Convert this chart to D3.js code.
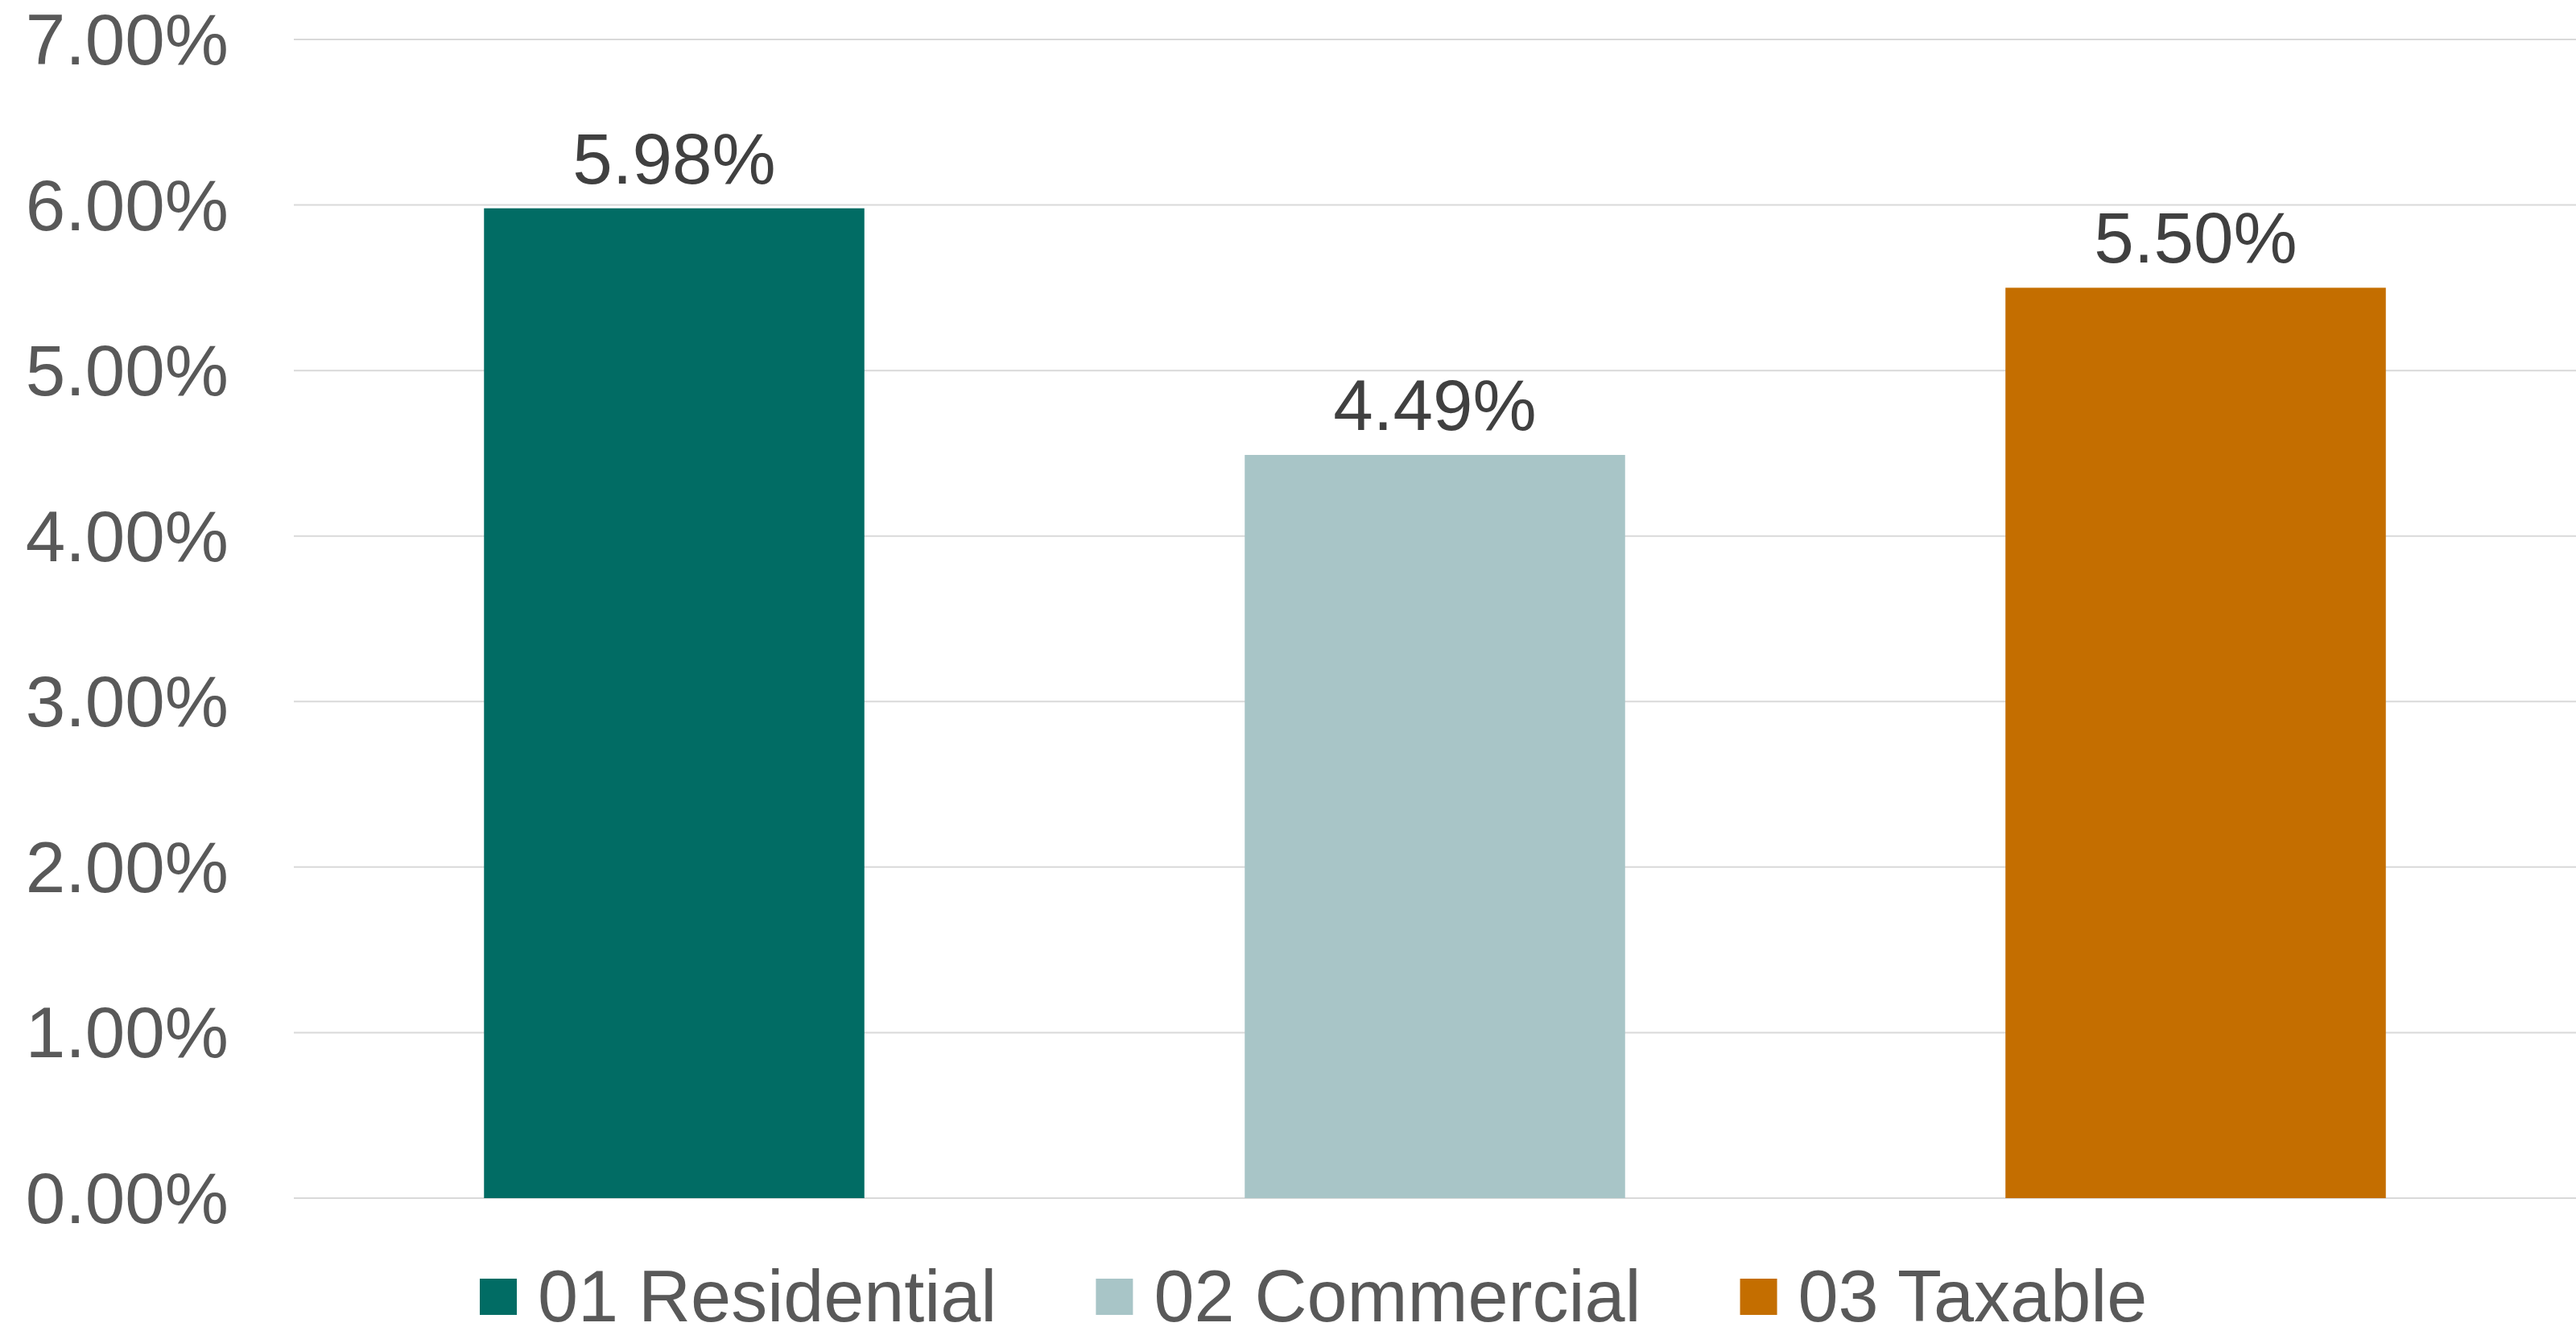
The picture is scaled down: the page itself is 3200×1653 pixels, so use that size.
<!DOCTYPE html>
<html>
 <head>
  <meta charset="utf-8">
  <script src="https://d3js.org/d3.v7.min.js"></script>
  <style>
   body { margin: 0; background: #fff; }
   text { font-family: "Liberation Sans", Arial, sans-serif; }
  </style>
 </head>
 <body>
  <div id="chart"></div>
  <script type="text/javascript">
   // data
   var categories = ["01 Residential", "02 Commercial", "03 Taxable"];
   var values = [0.0598, 0.0449, 0.0550];
   var colors = ["#016c64", "#a8c5c7", "#c46e00"];
   var yTicks = [0, 0.01, 0.02, 0.03, 0.04, 0.05, 0.06, 0.07];

   var W = 3200, H = 1653;
   var plotLeft = 365, plotRight = 3200, plotTop = 49, plotBottom = 1488;

   var svg = d3.select("#chart").append("svg")
     .attr("width", W)
     .attr("height", H);

   var x = d3.scaleBand()
     .domain(categories)
     .range([plotLeft, plotRight])
     .paddingInner(0.5)
     .paddingOuter(0.25);

   var y = d3.scaleLinear()
     .domain([0, 0.07])
     .range([plotBottom, plotTop]);

   var fmt = d3.format(".2%");

   // gridlines
   svg.selectAll("line.grid")
     .data(yTicks)
     .enter()
     .append("line")
       .attr("class", "grid")
       .attr("x1", plotLeft)
       .attr("x2", plotRight)
       .attr("y1", function (d) { return y(d); })
       .attr("y2", function (d) { return y(d); })
       .style("stroke", "#d9d9d9")
       .style("stroke-width", 2);

   // y axis labels
   svg.selectAll("text.ylab")
     .data(yTicks)
     .enter()
     .append("text")
       .attr("class", "ylab")
       .attr("x", 284)
       .attr("y", function (d) { return y(d) + 31; })
       .attr("text-anchor", "end")
       .style("font-size", "89px")
       .style("fill", "#595959")
       .text(function (d) { return fmt(d); });

   // bars
   svg.selectAll("rect.bar")
     .data(values)
     .enter()
     .append("rect")
       .attr("class", "bar")
       .attr("x", function (d, i) { return x(categories[i]); })
       .attr("width", x.bandwidth())
       .attr("y", function (d) { return y(d); })
       .attr("height", function (d) { return y(0) - y(d); })
       .style("fill", function (d, i) { return colors[i]; });

   // value labels
   svg.selectAll("text.val")
     .data(values)
     .enter()
     .append("text")
       .attr("class", "val")
       .attr("x", function (d, i) { return x(categories[i]) + x.bandwidth() / 2; })
       .attr("y", function (d) { return y(d) - 31; })
       .attr("text-anchor", "middle")
       .style("font-size", "89px")
       .style("fill", "#404040")
       .text(function (d) { return fmt(d); });

   // legend
   var legend = svg.append("g").attr("class", "legend");
   var lx = 596;
   categories.forEach(function (c, i) {
     legend.append("rect")
       .attr("x", lx)
       .attr("y", 1588)
       .attr("width", 46)
       .attr("height", 45)
       .style("fill", colors[i]);
     var t = legend.append("text")
       .attr("x", lx + 72)
       .attr("y", 1641)
       .style("font-size", "90px")
       .style("fill", "#595959")
       .text(c);
     lx = lx + 72 + t.node().getComputedTextLength() + 123;
   });
  </script>
 </body>
</html>
